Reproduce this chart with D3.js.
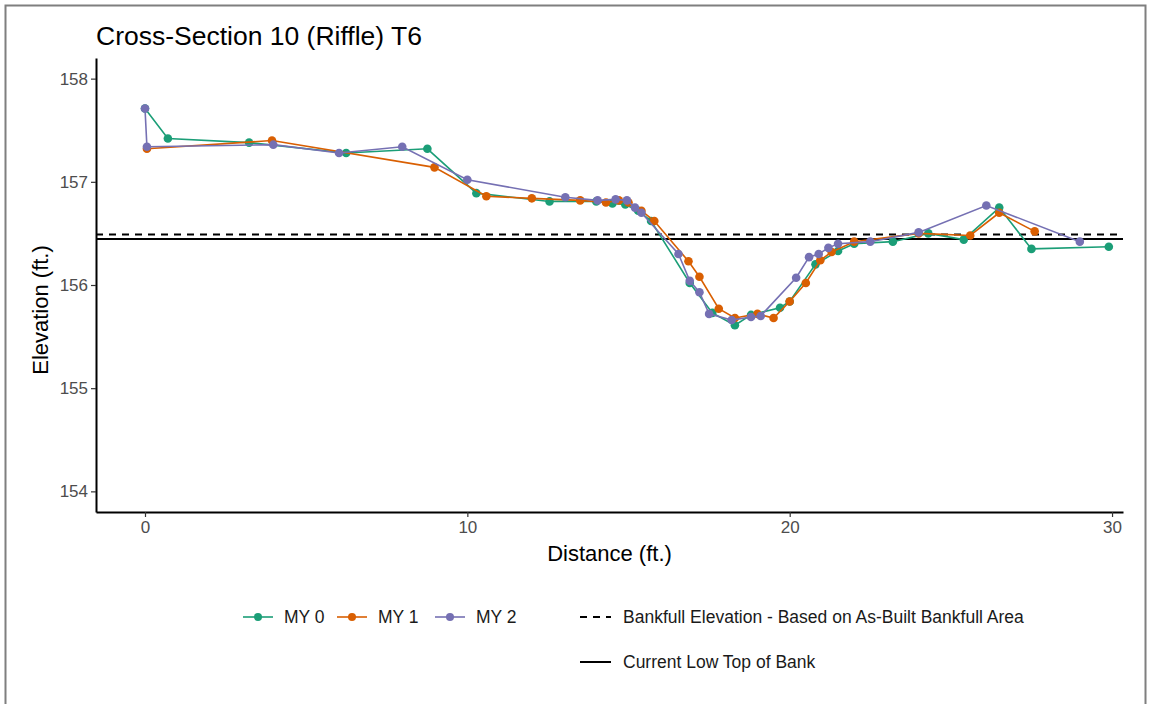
<!DOCTYPE html>
<html><head><meta charset="utf-8">
<script src="https://cdn.jsdelivr.net/npm/d3@7"></script>
<style>body{margin:0;background:#fff}svg{display:block;font-family:"Liberation Sans",Arial,sans-serif}</style>
</head><body><svg id="c" width="1151" height="704"></svg>
<script>
const title = "Cross-Section 10 (Riffle) T6";
const seriesNames = ["MY 0", "MY 1", "MY 2"];
const seriesColors = ["#1B9E77", "#D95F02", "#7570B3"];
const xTicks = [0, 10, 20, 30];
const yTicks = [154, 155, 156, 157, 158];
const my0Dist = [0, 0.71, 3.23, 6.24, 8.76, 10.28, 12.55, 14.0, 14.5, 14.9, 15.3, 15.7, 16.9, 17.6, 18.3, 18.8, 19.7, 20.0, 20.8, 21.5, 22.0, 23.2, 24.3, 25.4, 26.5, 27.5, 29.9];
const my0Elev = [157.71, 157.42, 157.38, 157.28, 157.32, 156.89, 156.81, 156.81, 156.79, 156.78, 156.72, 156.62, 156.02, 155.73, 155.61, 155.71, 155.78, 155.84, 156.20, 156.33, 156.40, 156.42, 156.50, 156.44, 156.75, 156.35, 156.37];
const my1Dist = [0.06, 3.94, 8.98, 10.59, 12.0, 13.5, 14.3, 14.7, 15.0, 15.4, 15.8, 16.86, 17.2, 17.8, 18.3, 19.0, 19.5, 20.0, 20.5, 20.95, 21.3, 22.0, 24.0, 25.6, 26.5, 27.6];
const my1Elev = [157.32, 157.40, 157.14, 156.86, 156.84, 156.82, 156.80, 156.82, 156.80, 156.72, 156.62, 156.23, 156.08, 155.77, 155.68, 155.72, 155.68, 155.84, 156.02, 156.24, 156.32, 156.42, 156.50, 156.48, 156.70, 156.52];
const my2Dist = [0, 0.06, 3.98, 6.02, 7.98, 10.0, 13.04, 14.04, 14.6, 14.95, 15.2, 15.4, 16.55, 16.9, 17.2, 17.5, 18.2, 18.8, 19.1, 20.2, 20.6, 20.9, 21.2, 21.5, 22.5, 24.0, 26.1, 29.0];
const my2Elev = [157.71, 157.34, 157.36, 157.28, 157.34, 157.02, 156.85, 156.82, 156.83, 156.82, 156.75, 156.70, 156.30, 156.04, 155.93, 155.72, 155.66, 155.69, 155.70, 156.07, 156.27, 156.30, 156.36, 156.40, 156.42, 156.51, 156.77, 156.42];
const bankfullElev = 156.49;
const lowTopElev = 156.445;
const legendRefNames = ["Bankfull Elevation - Based on As-Built Bankfull Area", "Current Low Top of Bank"];

const svg = d3.select("#c");
svg.append("rect").attr("x",5.5).attr("y",5.5).attr("width",1140).attr("height",720)
  .attr("fill","none").attr("stroke","#7f7f7f").attr("stroke-width",2);

const L=96, R=1123, T=58, B=512;
const x = d3.scaleLinear().domain([-1.52, 30.34]).range([L, R]);
const y = d3.scaleLinear().domain([153.8, 158.2]).range([B, T]);

// reference lines
svg.append("line").attr("x1",L).attr("x2",R).attr("y1",y(lowTopElev)).attr("y2",y(lowTopElev))
  .attr("stroke","#000").attr("stroke-width",2);
svg.append("line").attr("x1",L).attr("x2",R).attr("y1",y(bankfullElev)).attr("y2",y(bankfullElev))
  .attr("stroke","#000").attr("stroke-width",2).attr("stroke-dasharray","7,6");

const series = [[my0Dist,my0Elev],[my1Dist,my1Elev],[my2Dist,my2Elev]].map((s,i)=>({
  name: seriesNames[i], color: seriesColors[i], pts: s[0].map((d,j)=>[d, s[1][j]])
}));
const line = d3.line().x(d=>x(d[0])).y(d=>y(d[1]));
series.forEach(s=>{
  svg.append("path").attr("d", line(s.pts)).attr("fill","none").attr("stroke", s.color).attr("stroke-width",1.6);
  svg.append("g").selectAll("circle").data(s.pts).join("circle")
    .attr("cx",d=>x(d[0])).attr("cy",d=>y(d[1])).attr("r",4.3).attr("fill",s.color);
});

// axes
const xa = svg.append("g").attr("transform",`translate(0,${B})`)
  .call(d3.axisBottom(x).tickValues(xTicks).tickFormat(d3.format("d")).tickSize(5).tickPadding(4).tickSizeOuter(0));
const ya = svg.append("g").attr("transform",`translate(${L},0)`)
  .call(d3.axisLeft(y).tickValues(yTicks).tickFormat(d3.format("d")).tickSize(5).tickPadding(3).tickSizeOuter(0));
[xa,ya].forEach(a=>{
  a.select(".domain").attr("stroke","#000").attr("stroke-width",2);
  a.selectAll(".tick line").attr("stroke","#333").attr("stroke-width",1.2);
  a.selectAll(".tick text").attr("fill","#4d4d4d").style("font-size","17px").style("font-family","'Liberation Sans',Arial,sans-serif");
});

svg.append("text").attr("x",96).attr("y",45).text(title).attr("font-size",26.5).attr("fill","#000");
svg.append("text").attr("x",(L+R)/2).attr("y",561).attr("text-anchor","middle").text("Distance (ft.)").attr("font-size",22);
svg.append("text").attr("transform",`translate(48,${(T+B)/2 + 25}) rotate(-90)`).attr("text-anchor","middle").text("Elevation (ft.)").attr("font-size",22);

// legend
const lg = svg.append("g").attr("font-size",17.5).attr("fill","#1a1a1a");
const keyCx = [258, 352, 450];
series.forEach((s,i)=>{
  const cy = 617;
  lg.append("line").attr("x1",keyCx[i]-15).attr("x2",keyCx[i]+15).attr("y1",cy).attr("y2",cy).attr("stroke",s.color).attr("stroke-width",1.6);
  lg.append("circle").attr("cx",keyCx[i]).attr("cy",cy).attr("r",4).attr("fill",s.color);
  lg.append("text").attr("x",keyCx[i]+26).attr("y",cy).attr("dy","0.35em").text(s.name);
});
lg.append("line").attr("x1",580).attr("x2",611).attr("y1",617).attr("y2",617).attr("stroke","#000").attr("stroke-width",2).attr("stroke-dasharray","7,6");
lg.append("text").attr("x",623).attr("y",617).attr("dy","0.35em").text(legendRefNames[0]);
lg.append("line").attr("x1",580).attr("x2",611).attr("y1",662).attr("y2",662).attr("stroke","#000").attr("stroke-width",2);
lg.append("text").attr("x",623).attr("y",662).attr("dy","0.35em").text(legendRefNames[1]);
</script></body></html>
